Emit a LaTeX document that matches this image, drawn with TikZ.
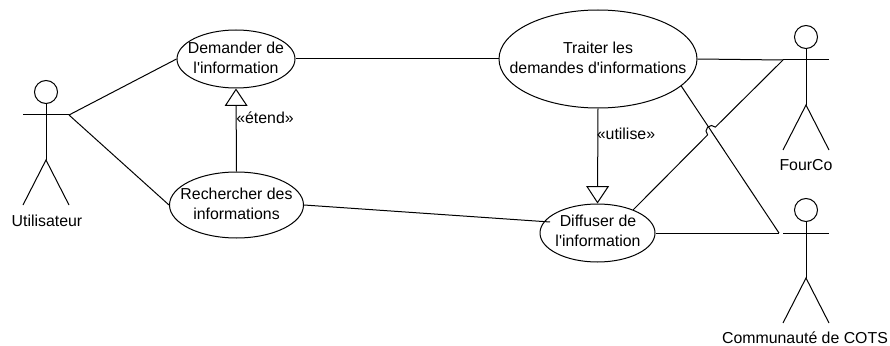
\documentclass[tikz,border=0pt]{standalone}
\usepackage{fontspec}
\newfontfamily\umlfont{Liberation Sans}
\usepackage{tikz}
\usetikzlibrary{
  calc, shapes.geometric, arrows.meta
}
\tikzset{
  usecase/.style={draw, ellipse, inner sep=0pt, line width=0.75pt},
  caption/.style={inner sep=0pt, align=center},
  assoc/.style={line width=0.75pt},
  inherit/.style={line width=0.75pt, -{Triangle[open, length=13pt, width=17pt]}},
  pics/actor/.style={code={
    \draw[assoc] (0,-23) circle (11.5);
    \draw[assoc] (0,-11.5) -- (0,45);
    \draw[assoc] (-23,0) -- (23,0);
    \draw[assoc] (-23,90) -- (0,45) -- (23,90);
  }}
}
\begin{document}
\begin{tikzpicture}[x=0.75pt, y=-0.75pt, font=\umlfont\fontsize{11.9}{14.6}\selectfont]
        \useasboundingbox (0,0) rectangle (890,346);
        % actors
        \pic at (46,115) {actor};
        \pic at (806,60) {actor};
        \pic at (806,233) {actor};
        \coordinate (U) at (69,115);
        \coordinate (F) at (783,60);
        \coordinate (C) at (779,233);
        \coordinate (H) at (711.5,131);
        \node[caption] (utilisateur) at (47,221) {Utilisateur};
        \node[caption] (fourco) at (806,165) {FourCo};
        \node[caption] (cots) at (805,338) {Communauté de COTS};
        % use cases
        \node[usecase, minimum width=88.5pt, minimum height=43.5pt] (demander) at (236,59) {};
        \node[usecase, minimum width=100.5pt, minimum height=49.5pt] (rechercher) at (236.5,205) {};
        \node[usecase, minimum width=148.5pt, minimum height=73.5pt] (traiter) at (598,59) {};
        \node[usecase, minimum width=86.25pt, minimum height=43.5pt] (diffuser) at (597.5,233) {};
        \node[caption] (demandertext) at (236,58) {Demander de\\l'information};
        \node[caption] (recherchertext) at (236.5,204) {Rechercher des\\informations};
        \node[caption] (traitertext) at (598,58) {Traiter les\\demandes d'informations};
        \node[caption] (diffusertext) at (598,231) {Diffuser de\\l'information};
        % associations
        \draw[assoc] (U) -- (demander.west);
        \draw[assoc] (U) -- (rechercher.west);
        \draw[assoc] (demander.east) -- (traiter.west);
        \draw[assoc] (rechercher.east) -- (550,222);
        \draw[assoc] (traiter.east) -- (F);
        \draw[assoc] (traiter.-18) -- (C);
        \draw[assoc] (diffuser.east) -- (C);
        \draw[assoc] (diffuser.33) -- ($(H)+(-3.9,3.9)$) arc (135:315:5.5) -- (F);
        % generalisations
        \draw[inherit] (rechercher.north) -- (demander.south);
        \draw[inherit] (traiter.south) -- (diffuser.north);
        \node[caption] (etend) at (265,118) {«étend»};
        \node[caption] (utilise) at (626,134) {«utilise»};
    \end{tikzpicture}
\end{document}
